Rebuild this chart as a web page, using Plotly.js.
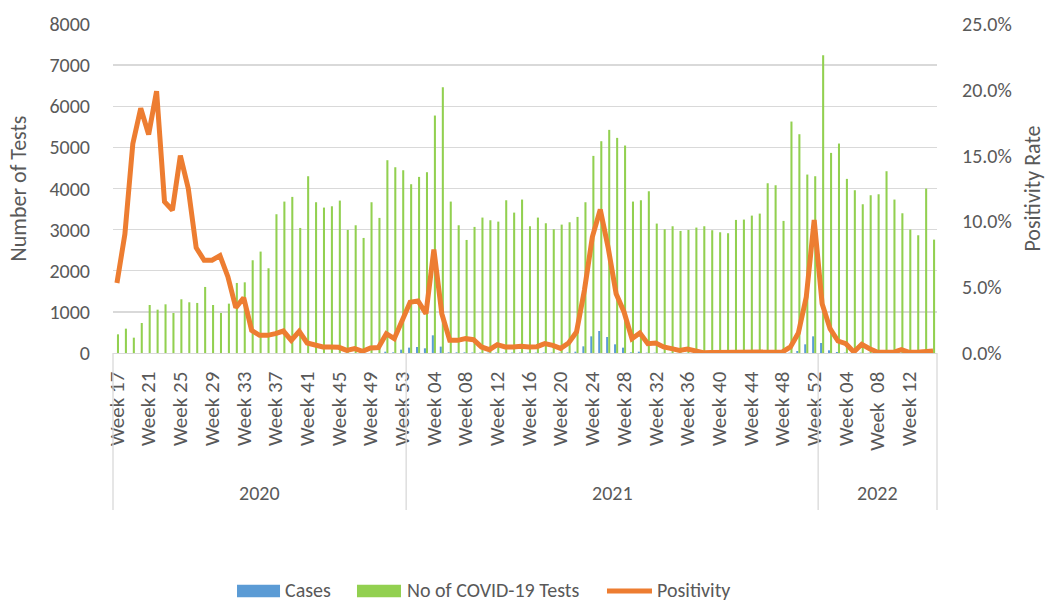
<!DOCTYPE html>
<html>
<head>
<meta charset="utf-8">
<script src="https://cdn.plot.ly/plotly-3.0.1.min.js"></script>
<style>
  html, body { margin: 0; padding: 0; background: #ffffff; }
  #chart { width: 1046px; height: 602px; }
</style>
</head>
<body>
<div id="chart"></div>
<script>
// ---- Categories ----
const yearLabels = ['2020', '2021', '2022'];
const firstWeek = [17, 1, 1];
const lastWeek = [53, 52, 15];

// ---- Series values ----
// Number of COVID-19 tests per week
const tests2020 = [454, 592, 373, 730, 1168, 1054, 1184, 973, 1306, 1233, 1217, 1606, 1168, 973, 1200, 1703, 1719,
  2255, 2466, 2060, 3374, 3682, 3796, 3041, 4298, 3666, 3536, 3568, 3706, 2993, 3106, 2798, 3666, 3285, 4688, 4517, 4444];
const tests2021 = [4104, 4282, 4396, 5774, 6464, 3682, 3106, 2749, 3066, 3293, 3228, 3195, 3714, 3414, 3731, 3082,
  3293, 3155, 3009, 3122, 3179, 3309, 3666, 4793, 5150, 5426, 5231, 5045, 3682, 3714, 3933, 3147, 3009, 3082, 2968,
  2993, 3050, 3082, 2985, 2936, 2912, 3236, 3244, 3341, 3390, 4128, 4079, 3212, 5628, 5320, 4339, 4298];
const tests2022 = [7242, 4866, 5093, 4234, 3958, 3617, 3836, 3860, 4420, 3731, 3398, 3001, 2863, 3998, 2757];

// Cases per week
const cases2020 = [0, 0, 0, 0, 0, 0, 0, 0, 0, 0, 0, 0, 0, 0, 0, 0, 0, 0, 0, 0, 0, 0, 0, 0, 0, 0, 0, 0, 0, 0, 0, 0, 0, 0,
  32, 16, 81];
const cases2021 = [130, 146, 114, 430, 155, 16, 16, 16, 12, 12, 10, 12, 10, 10, 10, 10, 10, 12, 10, 10, 14, 32, 162,
  405, 535, 389, 211, 130, 16, 32, 8, 8, 6, 5, 4, 4, 3, 2, 2, 2, 2, 2, 2, 2, 2, 2, 2, 3, 8, 49, 211, 405];
const cases2022 = [243, 65, 24, 10, 4, 8, 5, 2, 2, 2, 4, 2, 2, 3, 4];

// Positivity rate (%)
const positivity2020 = [5.32, 9.03, 15.9, 18.6, 16.6, 19.9, 11.5, 10.85, 15.0, 12.5, 8.0, 7.05, 7.05, 7.4, 5.8, 3.45,
  4.2, 1.72, 1.34, 1.34, 1.47, 1.67, 0.96, 1.65, 0.76, 0.58, 0.46, 0.46, 0.43, 0.2, 0.33, 0.13, 0.38, 0.41, 1.47, 1.09, 2.48];
const positivity2021 = [3.85, 3.96, 2.99, 7.86, 2.99, 0.96, 0.96, 1.09, 1.01, 0.46, 0.25, 0.63, 0.46, 0.46, 0.51, 0.46,
  0.48, 0.71, 0.58, 0.35, 0.76, 1.6, 4.77, 8.82, 10.9, 8.0, 4.5, 3.12, 1.09, 1.52, 0.71, 0.76, 0.46, 0.33, 0.2, 0.3, 0.2,
  0.02, 0.03, 0.03, 0.03, 0.03, 0.03, 0.03, 0.03, 0.03, 0.03, 0.08, 0.46, 1.52, 4.26, 10.1];
const positivity2022 = [3.75, 1.85, 0.91, 0.71, 0.08, 0.66, 0.33, 0.05, 0.05, 0.05, 0.25, 0.05, 0.05, 0.08, 0.15];

// ---- Tick labels ----
const tickEvery = 4;
const tickLabelOverride = { '2022 Week 08': 'Week\u00a0\u00a008' };
const yTickVals = [0, 1000, 2000, 3000, 4000, 5000, 6000, 7000, 8000];
const y2TickVals = [0, 5, 10, 15, 20, 25];
const y2TickText = y2TickVals.map(v => v.toFixed(1) + '%');

// ---- Series names ----
const seriesNames = ['Cases', 'No of COVID-19 Tests', 'Positivity'];
const seriesColors = ['#5B9BD5', '#92D050', '#ED7D31'];

// ---- Build categories ----
const categories = [];
const catWeek = [];
const groupStart = [];
const groupEnd = [];
yearLabels.forEach((yr, k) => {
  groupStart.push(categories.length);
  for (let w = firstWeek[k]; w <= lastWeek[k]; w++) {
    const ww = String(w).padStart(2, '0');
    categories.push(yr + ' Week ' + ww);
    catWeek.push('Week ' + ww);
  }
  groupEnd.push(categories.length - 1);
});

const tests = tests2020.concat(tests2021, tests2022);
const cases = cases2020.concat(cases2021, cases2022);
const positivity = positivity2020.concat(positivity2021, positivity2022);

const tickVals = [], tickText = [];
categories.forEach((c, i) => {
  if (i % tickEvery === 0) {
    tickVals.push(c);
    tickText.push(tickLabelOverride[c] || catWeek[i]);
  }
});

const FONT = 'Carlito, Lato, "Liberation Sans", sans-serif';
const GREY = '#595959';
const LINEGREY = '#d9d9d9';

const traces = [
  {
    type: 'bar', name: seriesNames[0], x: categories, y: cases,
    marker: { color: seriesColors[0] }, yaxis: 'y'
  },
  {
    type: 'bar', name: seriesNames[1], x: categories, y: tests,
    marker: { color: seriesColors[1] }, yaxis: 'y'
  },
  {
    type: 'scatter', mode: 'lines', name: seriesNames[2], x: categories, y: positivity,
    line: { color: seriesColors[2], width: 5 }, yaxis: 'y2'
  }
];

// year group separators and labels
const shapes = [];
const annotations = [];
const sepBottom = -0.477;
shapes.push({ type: 'line', xref: 'paper', yref: 'paper', x0: 0, x1: 0, y0: 0, y1: sepBottom,
  line: { color: LINEGREY, width: 1.3 } });
shapes.push({ type: 'line', xref: 'paper', yref: 'paper', x0: 1, x1: 1, y0: 0, y1: sepBottom,
  line: { color: LINEGREY, width: 1.3 } });
yearLabels.forEach((yr, k) => {
  if (k > 0) {
    const xb = groupStart[k] - 0.5;
    shapes.push({ type: 'line', xref: 'x', yref: 'paper', x0: xb, x1: xb, y0: 0, y1: sepBottom,
      line: { color: LINEGREY, width: 1.3 } });
  }
  annotations.push({
    xref: 'x', yref: 'paper', x: (groupStart[k] + groupEnd[k]) / 2, y: -0.426,
    text: yr, showarrow: false, xanchor: 'center', yanchor: 'middle',
    font: { family: FONT, size: 20, color: GREY }
  });
});

// Legend (drawn below the axis, Excel style: wide swatches)
const legY = -0.7215;         // centre line of legend row (paper units)
const legH = 0.038;           // swatch height
const legItems = [
  { sx0: 0.1505, sx1: 0.2027, tx: 0.2075, kind: 'rect' },
  { sx0: 0.2961, sx1: 0.3495, tx: 0.3556, kind: 'rect' },
  { sx0: 0.5995, sx1: 0.6541, tx: 0.6590, kind: 'line' }
];
legItems.forEach((it, i) => {
  if (it.kind === 'rect') {
    shapes.push({ type: 'rect', xref: 'paper', yref: 'paper', x0: it.sx0, x1: it.sx1,
      y0: legY - legH / 2 - 0.002, y1: legY + legH / 2 - 0.002,
      fillcolor: seriesColors[i], line: { width: 0 } });
  } else {
    shapes.push({ type: 'line', xref: 'paper', yref: 'paper', x0: it.sx0, x1: it.sx1,
      y0: legY - 0.002, y1: legY - 0.002, line: { color: seriesColors[i], width: 5 } });
  }
  annotations.push({ xref: 'paper', yref: 'paper', x: it.tx, y: legY, text: seriesNames[i],
    showarrow: false, xanchor: 'left', yanchor: 'middle', borderpad: 0,
    font: { family: FONT, size: 20, color: GREY } });
});

const layout = {
  width: 1046, height: 602,
  margin: { l: 113, r: 109, t: 24, b: 249 },
  paper_bgcolor: '#ffffff', plot_bgcolor: '#ffffff',
  font: { family: FONT, color: GREY, size: 20 },
  barmode: 'group', bargap: 0.48, bargroupgap: 0,
  showlegend: false,
  xaxis: {
    type: 'category', categoryorder: 'array', categoryarray: categories,
    range: [-0.5, categories.length - 0.5],
    tickmode: 'array', tickvals: tickVals, ticktext: tickText,
    tickangle: -90, ticks: '', ticklabelstandoff: 9,
    tickfont: { family: FONT, size: 21, color: GREY },
    showline: true, linecolor: LINEGREY, linewidth: 1.3,
    showgrid: false, zeroline: false, automargin: false, fixedrange: true
  },
  yaxis: {
    range: [0, 8000], tickmode: 'array', tickvals: yTickVals,
    showgrid: true, gridcolor: LINEGREY, gridwidth: 1.3,
    zeroline: false, showline: false, ticks: '', ticklabelstandoff: 22,
    tickfont: { family: FONT, size: 20, color: GREY },
    title: { text: 'Number of Tests', standoff: 16, font: { family: FONT, size: 22, color: GREY } },
    automargin: false, fixedrange: true
  },
  yaxis2: {
    overlaying: 'y', side: 'right', range: [0, 25],
    tickmode: 'array', tickvals: y2TickVals, ticktext: y2TickText,
    showgrid: false, zeroline: false, showline: false, ticks: '', ticklabelstandoff: 24,
    tickfont: { family: FONT, size: 20, color: GREY },
    title: { text: 'Positivity Rate', standoff: 20, font: { family: FONT, size: 22, color: GREY } },
    automargin: false, fixedrange: true
  },
  shapes: shapes,
  annotations: annotations
};

Plotly.newPlot('chart', traces, layout, { displayModeBar: false, staticPlot: true });
</script>
</body>
</html>
